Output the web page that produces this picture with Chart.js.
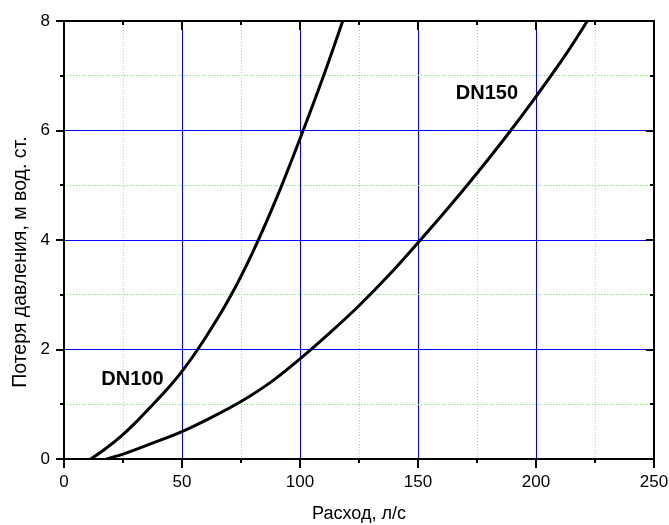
<!DOCTYPE html>
<html><head><meta charset="utf-8">
<script src="https://cdn.jsdelivr.net/npm/chart.js@4"></script>
<style>html,body{margin:0;padding:0;background:#fff}#wrap{width:669px;height:525px}</style>
</head><body><div id="wrap"><canvas id="c" width="669" height="525"></canvas></div>
<script>
// ---- data ----
const seriesNames = ['DN100', 'DN150'];
const dn100Flow = [11.3, 17, 24, 30, 36, 43, 50, 60, 70, 80, 90, 100, 110, 118.1, 122];
const dn100Loss = [0, 0.17, 0.41, 0.65, 0.92, 1.24, 1.6, 2.22, 2.93, 3.78, 4.76, 5.85, 7.0, 8.0, 8.5];
const dn150Flow = [18, 25, 37.5, 50, 62.5, 75, 87.5, 100, 112.5, 125, 137.5, 150, 162.5, 175, 187.5, 200, 212.5, 221, 224];
const dn150Loss = [0, 0.09, 0.29, 0.5, 0.76, 1.05, 1.4, 1.83, 2.3, 2.8, 3.35, 3.95, 4.57, 5.22, 5.9, 6.62, 7.38, 7.95, 8.16];
const xTickLabels = [0, 50, 100, 150, 200, 250];
const yTickLabels = [0, 2, 4, 6, 8];
const xTitle = 'Расход, л/с';
const yTitle = 'Потеря давления, м вод. ст.';
// label anchors (data coords)
const seriesLabelAt = [[29.0, 1.46], [179.2, 6.68]];

const FONT = '"Liberation Sans", Arial, Helvetica, sans-serif';
const toPts = (xs, ys) => xs.map((v, i) => ({x: v, y: ys[i]}));

function gridColor(labels, min, max) {
  return (ctx) => {
    const v = ctx.tick ? ctx.tick.value : null;
    if (v === min || v === max) return 'rgba(0,0,0,0)';
    return labels.includes(v) ? '#0000ff' : '#6cff6c';
  };
}
function gridDash(labels) {
  return (ctx) => (ctx.tick && labels.includes(ctx.tick.value)) ? [] : [1, 2];
}

const decorPlugin = {
  id: 'decor',
  afterDraw(chart) {
    const {ctx, chartArea: a, scales: {x, y}} = chart;
    ctx.save();
    ctx.strokeStyle = '#000';
    ctx.lineWidth = 2;
    const line = (x1, y1, x2, y2) => { ctx.beginPath(); ctx.moveTo(x1, y1); ctx.lineTo(x2, y2); ctx.stroke(); };
    ctx.strokeRect(a.left, a.top, a.right - a.left, a.bottom - a.top);
    x.ticks.forEach(t => {
      const px = Math.round(x.getPixelForValue(t.value));
      const len = xTickLabels.includes(t.value) ? 9 : 4;
      line(px, a.bottom, px, a.bottom + len);
      line(px, a.top, px, a.top + len);
    });
    y.ticks.forEach(t => {
      const py = Math.round(y.getPixelForValue(t.value));
      const len = yTickLabels.includes(t.value) ? 8 : 4;
      line(a.left - len, py, a.left, py);
      line(a.right, py, a.right - len, py);
    });
    // series labels
    ctx.fillStyle = '#000';
    ctx.font = 'bold 20px ' + FONT;
    ctx.textAlign = 'center';
    ctx.textBaseline = 'middle';
    seriesNames.forEach((n, i) => {
      ctx.fillText(n, x.getPixelForValue(seriesLabelAt[i][0]), y.getPixelForValue(seriesLabelAt[i][1]));
    });
    // y title
    ctx.font = '19.5px ' + FONT;
    ctx.translate(21, 262);
    ctx.rotate(-Math.PI / 2);
    ctx.fillText(yTitle, 0, 0);
    ctx.restore();
  }
};

new Chart(document.getElementById('c'), {
  type: 'line',
  data: {
    datasets: [
      {label: seriesNames[0], data: toPts(dn100Flow, dn100Loss), borderColor: '#000', borderWidth: 3,
       pointRadius: 0, cubicInterpolationMode: 'monotone', fill: false},
      {label: seriesNames[1], data: toPts(dn150Flow, dn150Loss), borderColor: '#000', borderWidth: 3,
       pointRadius: 0, cubicInterpolationMode: 'monotone', fill: false}
    ]
  },
  options: {
    responsive: false,
    animation: false,
    devicePixelRatio: 1,
    layout: {padding: {top: 21, right: 15, left: 0, bottom: 0}},
    plugins: {legend: {display: false}, tooltip: {enabled: false}},
    scales: {
      x: {
        type: 'linear', min: 0, max: 250,
        afterFit: (s) => { s.height = 66; s.paddingLeft = 0; s.paddingRight = 0; },
        ticks: {stepSize: 25, autoSkip: false, maxRotation: 0, padding: 13, color: '#000',
                font: {family: FONT, size: 17},
                callback: (v) => xTickLabels.includes(v) ? String(v) : ''},
        grid: {drawTicks: false, color: gridColor(xTickLabels, 0, 250), lineWidth: 1},
        border: {display: false, dash: gridDash(xTickLabels)},
        title: {display: true, text: xTitle, color: '#000', font: {family: FONT, size: 18}, padding: {top: 0, bottom: 0}}
      },
      y: {
        type: 'linear', min: 0, max: 8,
        afterFit: (s) => { s.width = 64; s.paddingTop = 0; s.paddingBottom = 0; },
        ticks: {stepSize: 1, autoSkip: false, padding: 14, color: '#000',
                font: {family: FONT, size: 17},
                callback: (v) => yTickLabels.includes(v) ? String(v) : ''},
        grid: {drawTicks: false, color: gridColor(yTickLabels, 0, 8), lineWidth: 1},
        border: {display: false, dash: gridDash(yTickLabels)},
        title: {display: false}
      }
    }
  },
  plugins: [decorPlugin]
});
</script>
</body></html>
